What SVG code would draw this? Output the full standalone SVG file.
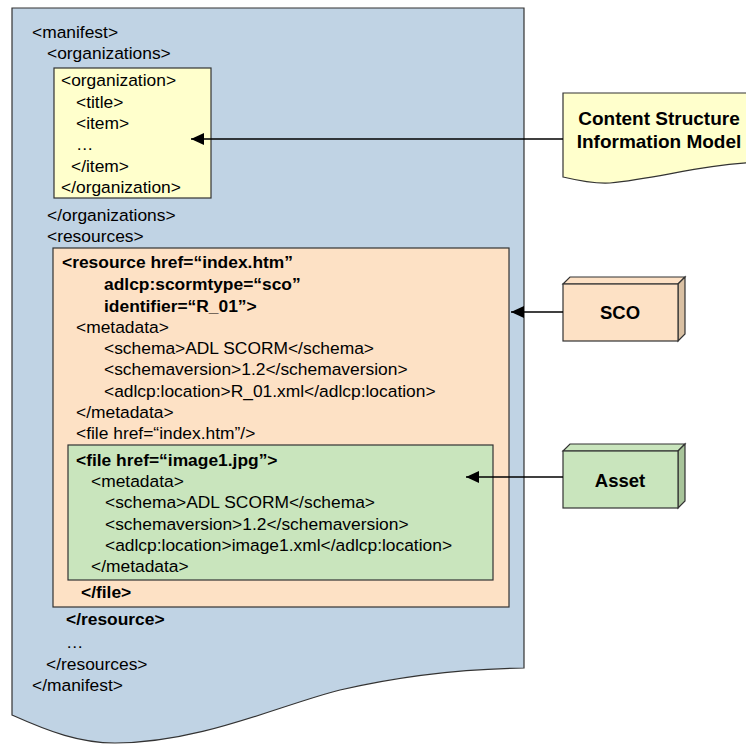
<svg xmlns="http://www.w3.org/2000/svg" width="746" height="745" viewBox="0 0 746 745">
<style>
text{font-family:"Liberation Sans",Arial,sans-serif;font-size:17.4px;fill:#000}
.b{font-weight:bold}
.lbl{font-weight:bold;font-size:18.5px;text-anchor:middle}
.csl{font-weight:bold;font-size:19px;text-anchor:middle}
.box{stroke:#333;stroke-width:1.2}
.conn{stroke:#000;stroke-width:1.5;fill:none;marker-end:url(#ah)}
</style>
<defs>
<marker id="ah" markerWidth="14" markerHeight="12" refX="13" refY="6" orient="auto" markerUnits="userSpaceOnUse">
<path d="M0,0 L13,6 L0,12 Z" fill="#000"/>
</marker>
</defs>
<rect width="746" height="745" fill="#fff"/>
<g id="manifest">
<path class="box" fill="#C0D3E4" d="M12,8 H524 V668 C460,669 400,676 340,690 C280,705 200,743 115,743 C80,743 50,732 12,715 Z"/>
<text x="32" y="38">&lt;manifest&gt;</text>
<text x="47" y="59">&lt;organizations&gt;</text>
<text x="47" y="221">&lt;/organizations&gt;</text>
<text x="47" y="242">&lt;resources&gt;</text>
<text x="66" y="625" class="b">&lt;/resource&gt;</text>
<text x="66" y="648">…</text>
<text x="46" y="670">&lt;/resources&gt;</text>
<text x="32" y="691">&lt;/manifest&gt;</text>
</g>
<g id="organization">
<rect class="box" x="54" y="68" width="157" height="130" fill="#FFFFCC"/>
<text x="61" y="86">&lt;organization&gt;</text>
<text x="76" y="108">&lt;title&gt;</text>
<text x="76" y="129">&lt;item&gt;</text>
<text x="76" y="150">…</text>
<text x="71" y="172">&lt;/item&gt;</text>
<text x="61" y="193">&lt;/organization&gt;</text>
</g>
<g id="resource">
<rect class="box" x="53" y="248" width="456" height="359" fill="#FDE1C5"/>
<text x="62" y="268" class="b">&lt;resource href=“index.htm”</text>
<text x="104" y="290" class="b">adlcp:scormtype=“sco”</text>
<text x="104" y="312" class="b">identifier=“R_01”&gt;</text>
<text x="76" y="333">&lt;metadata&gt;</text>
<text x="104" y="354">&lt;schema&gt;ADL SCORM&lt;/schema&gt;</text>
<text x="104" y="375">&lt;schemaversion&gt;1.2&lt;/schemaversion&gt;</text>
<text x="104" y="397">&lt;adlcp:location&gt;R_01.xml&lt;/adlcp:location&gt;</text>
<text x="76" y="418">&lt;/metadata&gt;</text>
<text x="76" y="439">&lt;file href=“index.htm”/&gt;</text>
<text x="81" y="598" class="b">&lt;/file&gt;</text>
</g>
<g id="file">
<rect class="box" x="68" y="445" width="425" height="135" fill="#C9E5BD"/>
<text x="76" y="466" class="b">&lt;file href=“image1.jpg”&gt;</text>
<text x="91" y="487">&lt;metadata&gt;</text>
<text x="105" y="508">&lt;schema&gt;ADL SCORM&lt;/schema&gt;</text>
<text x="105" y="530">&lt;schemaversion&gt;1.2&lt;/schemaversion&gt;</text>
<text x="105" y="551">&lt;adlcp:location&gt;image1.xml&lt;/adlcp:location&gt;</text>
<text x="91" y="572">&lt;/metadata&gt;</text>
</g>
<g id="content-structure">
<path class="box" fill="#FFFFCC" d="M563,93 H760 V162 C700,165 660,178 610,183 C595,184 580,181 563,177 Z"/>
<text x="659" y="125" class="csl">Content Structure</text>
<text x="659" y="148" class="csl">Information Model</text>
</g>
<g id="sco">
<polygon class="box" fill="#FDE1C5" points="563,284 570,277 685,277 678,284"/>
<polygon class="box" fill="#D9C0A3" points="678,284 685,277 685,334 678,341"/>
<rect class="box" x="563" y="284" width="115" height="57" fill="#FDE1C5"/>
<text x="620" y="319" class="lbl">SCO</text>
</g>
<g id="asset">
<polygon class="box" fill="#C9E5BD" points="563,451 570,444 685,444 678,451"/>
<polygon class="box" fill="#A8C49A" points="678,451 685,444 685,501 678,508"/>
<rect class="box" x="563" y="451" width="115" height="57" fill="#C9E5BD"/>
<text x="620" y="487" class="lbl">Asset</text>
</g>
<g id="connectors">
<line class="conn" x1="563" y1="139" x2="191" y2="139"/>
<line class="conn" x1="563" y1="312" x2="511" y2="312"/>
<line class="conn" x1="563" y1="477" x2="466" y2="477"/>
</g>
</svg>
